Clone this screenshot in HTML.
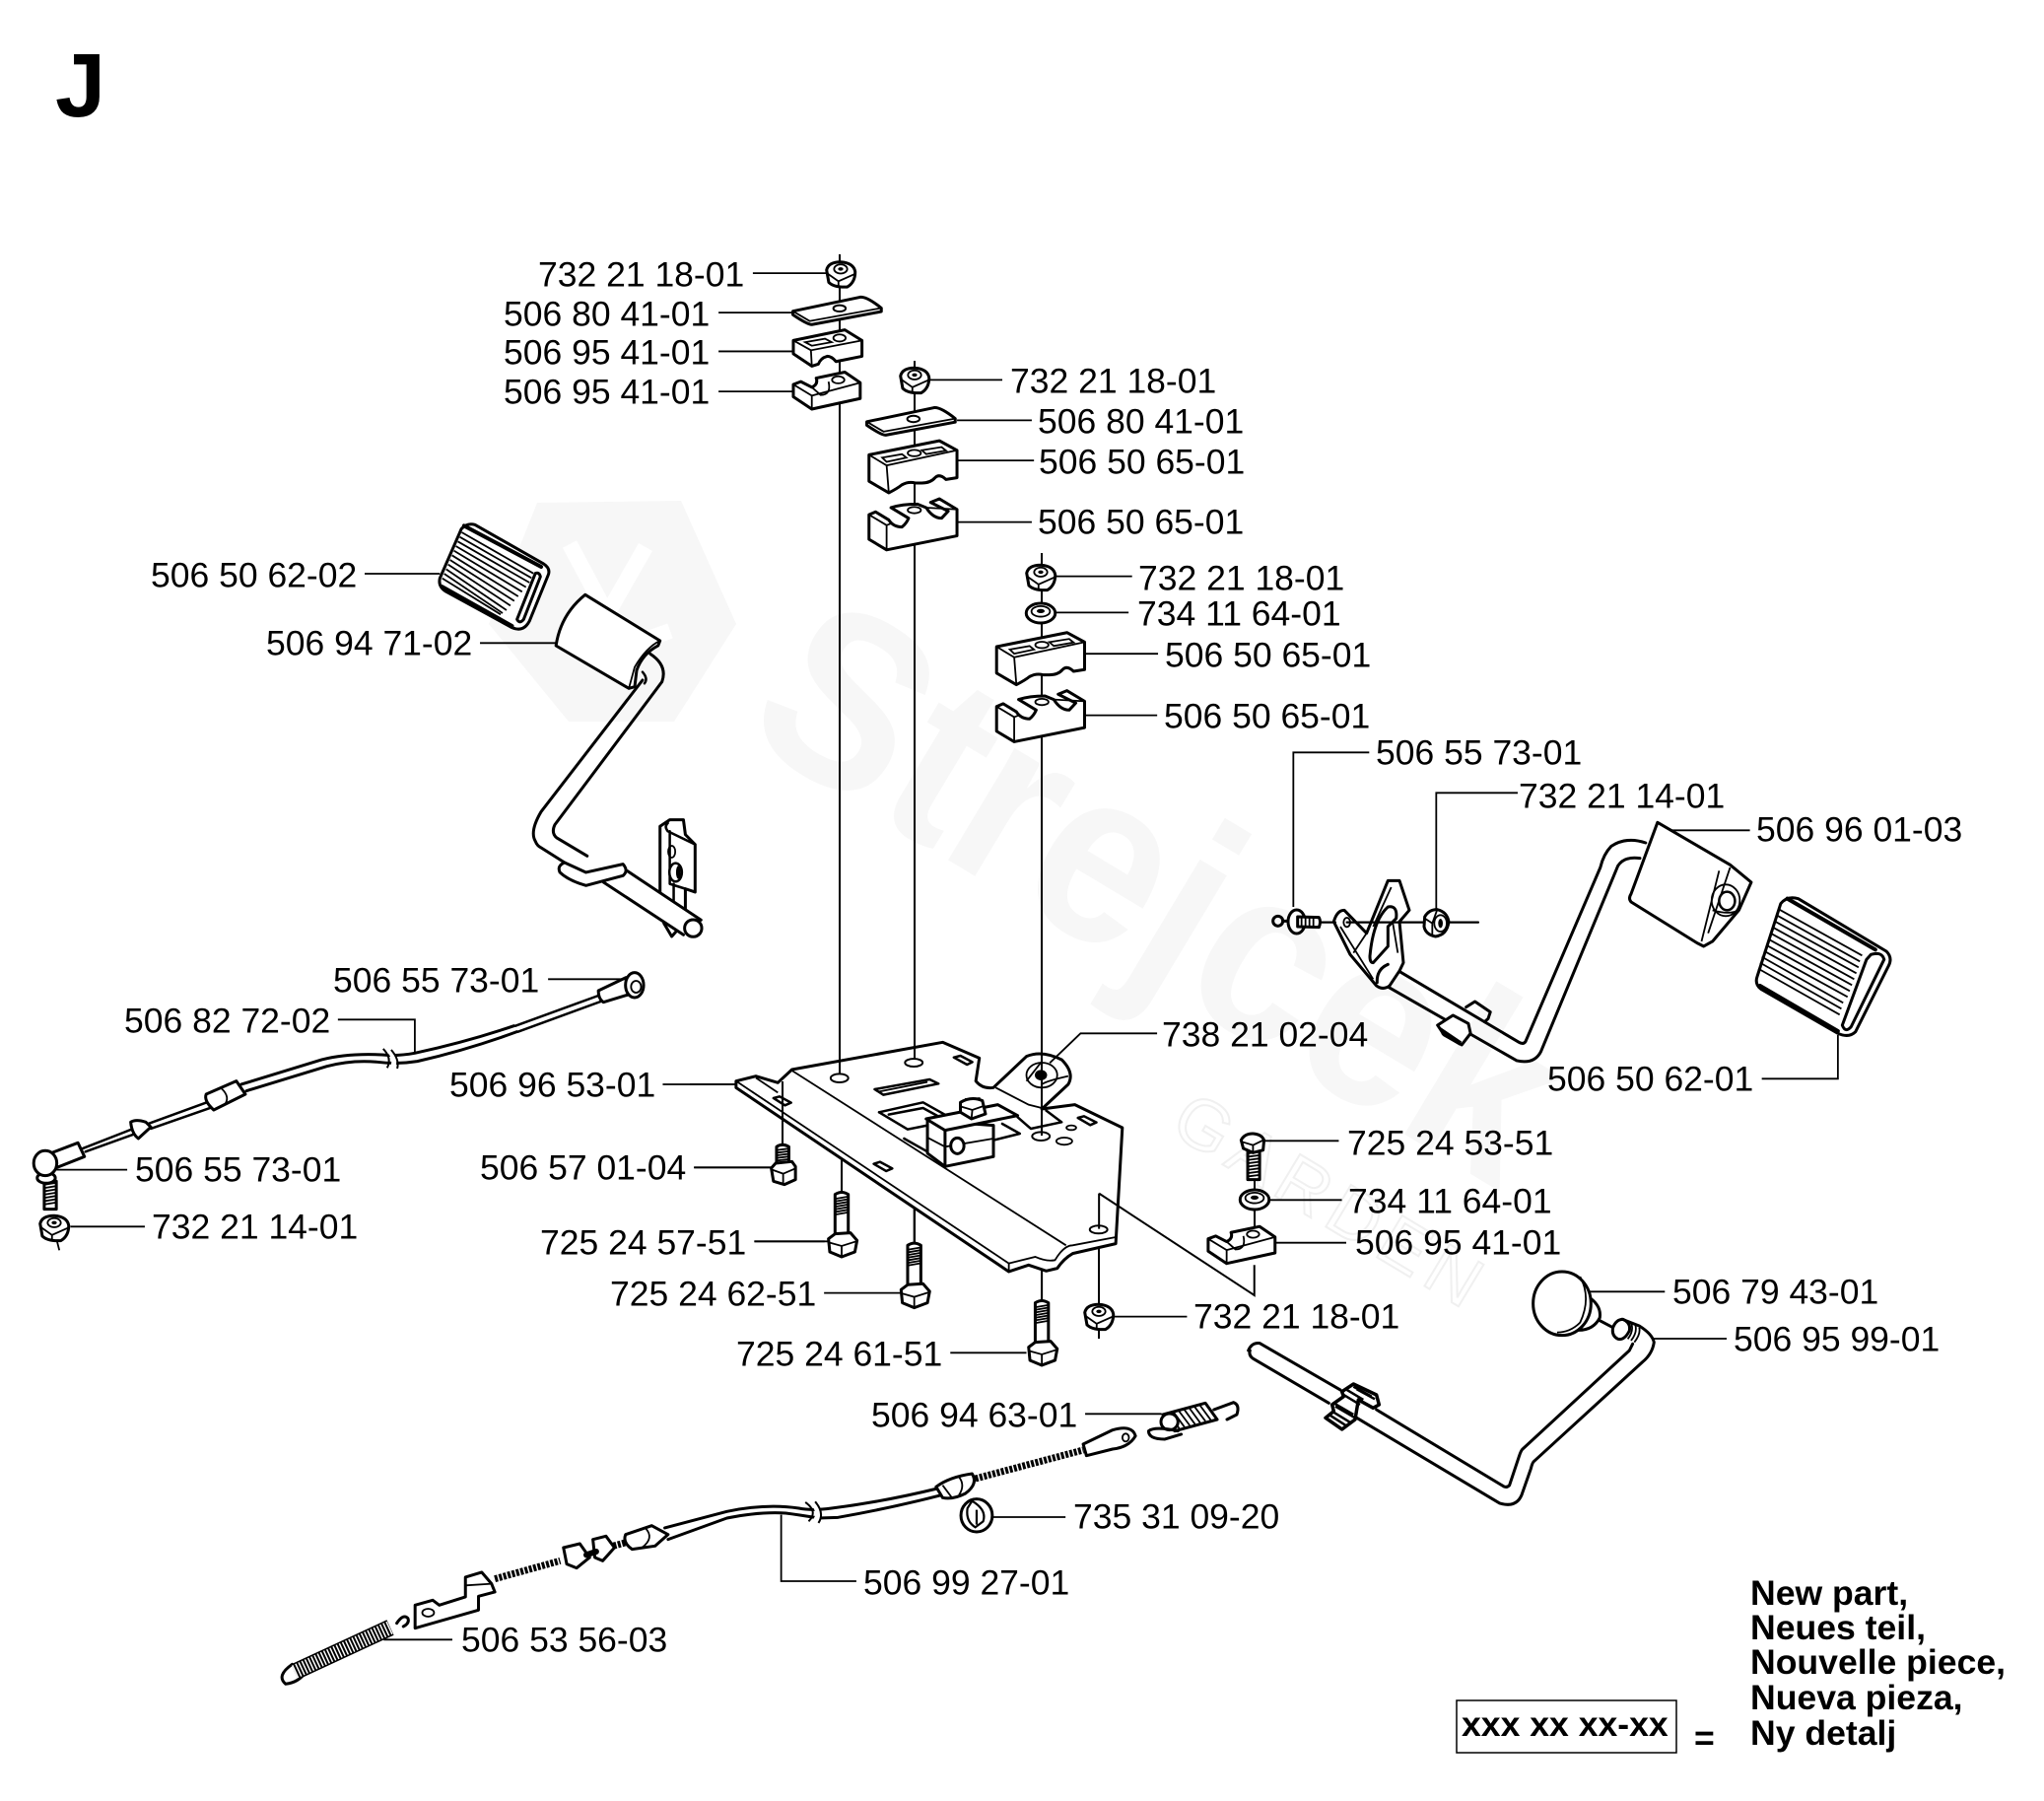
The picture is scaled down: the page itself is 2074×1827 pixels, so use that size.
<!DOCTYPE html>
<html><head><meta charset="utf-8"><style>
html,body{margin:0;padding:0;background:#fff}
svg{display:block}
svg *{vector-effect:non-scaling-stroke}
.p{fill:#fff;stroke:#000;stroke-width:3;stroke-linejoin:round;stroke-linecap:round}
.o{fill:none;stroke:#000;stroke-width:3;stroke-linejoin:round;stroke-linecap:round}
.t{fill:none;stroke:#000;stroke-width:1.8}
.k{fill:#000;stroke:none}
.l text{font:35.5px "Liberation Sans",sans-serif;fill:#000}
.b text{font:bold 35.6px "Liberation Sans",sans-serif;fill:#000}
</style></head><body>
<svg width="2074" height="1827" viewBox="0 0 2074 1827" xmlns="http://www.w3.org/2000/svg">
<defs>
<g id="nut" transform="scale(.4464,.3571)">
<path class="p" d="M-32,-10Q-28,-33 0,-33Q30,-30 33,-5Q33,25 15,38Q-15,40 -27,25Z"/>
<ellipse class="t" cx="0" cy="-13" rx="15" ry="13"/><ellipse class="k" cx="0" cy="-13" rx="6" ry="5"/>
<path class="t" d="M-30,0L-5,22L31,2M-5,22L-5,39"/>
</g>
<g id="washer" transform="scale(.4464,.3571)">
<ellipse class="p" cx="0" cy="0" rx="33" ry="28"/><ellipse class="t" cx="0" cy="-5" rx="21" ry="15"/><ellipse class="k" cx="0" cy="-6" rx="9" ry="6"/>
</g>
<g id="slat">
<path class="p" d="M727,212L880,172Q895,170 928,203L928,213L770,250Q760,250 727,222Z"/>
<path class="t" d="M727,212L765,240L928,203"/><ellipse class="p" style="stroke-width:2" cx="833" cy="204" rx="14" ry="9"/>
</g>
<g id="smallTop">
<path class="p" d="M728,295L845,265L884,295L884,340L825,355Q815,340 805,340Q790,345 785,362L770,368L728,333Z"/>
<path class="t" d="M728,295L768,323L884,295M768,323L770,368M755,300L800,290L815,300L770,310Z"/>
<ellipse class="t" cx="833" cy="288" rx="14" ry="10"/>
</g>
<g id="smallBot">
<path class="p" d="M728,420L745,412L770,428Q785,420 780,402L845,385L880,415L880,460L770,490L728,455Z"/>
<path class="t" d="M728,420L770,452L770,490M770,452L880,415M770,428L790,450Q815,450 808,412"/>
<ellipse class="t" cx="830" cy="407" rx="14" ry="10"/>
</g>
<g id="bigTop">
<path class="p" d="M900,620L1060,580L1100,607L1100,685L1075,690Q1060,672 1050,685Q1040,700 1020,700L1005,700Q990,695 975,705Q965,715 945,728L900,695Z"/>
<path class="t" d="M900,620L940,650L1100,607M940,650L945,728M930,628L975,618L985,628L940,640ZM1020,607L1065,598L1075,608L1030,618Z"/>
<ellipse class="t" cx="1003" cy="615" rx="15" ry="9"/>
</g>
<g id="bigBot">
<path class="p" d="M900,790L915,782L945,805Q955,825 975,825Q985,815 990,800L950,770Q975,760 1010,760L1030,770Q1045,800 1065,800L1080,780L1040,755L1060,745L1100,775L1100,850L940,890L900,860Z"/>
<path class="t" d="M900,790L940,820L940,890M940,820L950,815M1030,770L1100,775"/>
<ellipse class="t" cx="1003" cy="777" rx="15" ry="9"/>
</g>
<g id="bolt">
<path class="p" d="M330,635Q345,622 360,635L360,760L330,760Z"/>
<path class="t" d="M332,648L358,642M332,656L358,650M332,664L358,658M332,672L358,666M332,680L358,674M332,688L358,682M332,696L358,690"/>
<path class="p" d="M315,770L330,755L365,752L380,775L375,810L345,825L318,810Z"/>
<path class="t" d="M318,782L345,792L378,778M345,792L345,825"/>
</g>
</defs>

<!-- watermark -->
<g>
<path fill="#f7f7f7" d="M545,510L691,508L747,633L684,732L577,732L496,633Z"/>
<path fill="none" stroke="#fff" stroke-width="16" d="M578,552L625,640M655,555L615,625M610,665L680,640"/>
<text transform="translate(750,745) rotate(31)" font-family="Liberation Sans,sans-serif" font-weight="bold" font-size="250" fill="#f7f7f7" textLength="900" lengthAdjust="spacingAndGlyphs">Strejcek</text>
<text transform="translate(1185,1148) rotate(31)" font-family="Liberation Sans,sans-serif" font-size="72" fill="none" stroke="#f0f0f0" stroke-width="2" textLength="350" lengthAdjust="spacing">GARDEN</text>
</g>

<text x="56" y="118" font-family="Liberation Sans,sans-serif" font-weight="bold" font-size="92" fill="#000">J</text>

<!-- plate -->
<g transform="translate(700,1000) scale(.4464,.3333)">
<path class="p" d="M105,290L150,275L200,295L232,255L575,172L658,220L650,290Q665,315 690,310L765,215Q800,195 845,225Q875,265 860,300L800,375L875,362L983,432L968,785L870,815Q850,830 835,860L810,868L770,850L725,870L105,310Z"/>
<path class="t" d="M105,290L725,845M150,280L200,325M232,258L855,790M725,845L785,825Q810,840 830,835Q850,790 870,790L968,765M725,845L725,870M695,310L770,362L800,372"/>
<ellipse class="p" style="stroke-width:2" cx="340" cy="281" rx="20" ry="13"/>
<ellipse class="p" style="stroke-width:2" cx="509" cy="234" rx="20" ry="12"/>
<ellipse class="p" style="stroke-width:2" cx="798" cy="458" rx="20" ry="13"/>
<ellipse class="p" style="stroke-width:2" cx="929" cy="742" rx="20" ry="12"/>
<ellipse class="t" cx="867" cy="432" rx="11" ry="7"/><ellipse class="t" cx="851" cy="473" rx="18" ry="11"/>
<path class="o" style="stroke-width:2.5" d="M600,218L615,213L642,232L630,240ZM882,402L896,397L924,416L910,424ZM190,342L204,337L230,356L216,364ZM418,542L432,536L460,556L446,564Z"/>
<path class="o" style="stroke-width:2.5" d="M420,315L545,285L565,298L440,332Z"/><path class="t" d="M430,322L540,293"/>
<path class="o" style="stroke-width:2.5" d="M430,385L530,355L590,400M430,385L495,437L540,425M452,392L530,372L575,405M487,465L540,505M745,400L775,435L845,415L810,380M690,470L750,450L710,420"/>
<path class="t" d="M800,300Q810,290 860,275M765,290L800,230"/>
<ellipse class="t" cx="800" cy="272" rx="35" ry="38"/>
<ellipse class="k" cx="798" cy="272" rx="14" ry="16"/>
<path class="p" d="M540,410L540,510L580,550L690,520L690,425Z"/>
<path class="t" d="M580,490L690,465M540,462L580,490"/><path class="o" d="M580,440L580,550"/>
<ellipse class="p" cx="608" cy="487" rx="15" ry="24"/>
<path class="p" d="M537,405L700,362L745,395L580,440Z"/>
<path class="p" d="M615,355Q640,335 665,350L672,390L640,405L615,385Z"/>
<path class="t" d="M617,368L642,378L670,365M642,378L640,405M625,345L660,342"/>
</g>

<!-- axes -->
<g fill="none" stroke="#000" stroke-width="2">
<path d="M852,258V1090M928,366V1075M1057,561V1152"/>
<path d="M794,1097V1160M854,1177V1210M928,1227V1262M1057,1288V1320M1115,1266V1322M1273,1195V1250"/>
</g>

<!-- stacks Z1 -->
<g transform="translate(480,240) scale(.4464,.3571)">
<use href="#slat"/><use href="#slat" transform="translate(168,314)"/>
<use href="#smallTop"/><use href="#smallBot"/>
<use href="#bigTop"/><use href="#bigBot"/>
<use href="#bigTop" transform="translate(290,545)"/><use href="#bigBot" transform="translate(290,545)"/>
<path class="t" d="M636,104H805M558,216H727M558,326H727M558,440H727M1035,407H1203M1100,522H1270M1100,636H1275M1100,811H1270M1322,965H1498M1325,1068H1490M1390,1185H1557M1390,1360H1555"/>
</g>
<use href="#nut" transform="translate(853,277.5)"/>
<use href="#nut" transform="translate(928,385)"/>
<use href="#nut" transform="translate(1056,585)"/>
<use href="#washer" transform="translate(1056,622)"/>
<use href="#washer" transform="translate(1273,1217)"/>
<use href="#nut" transform="translate(1115,1335)"/>
<path fill="none" stroke="#000" stroke-width="2" d="M1115,1347V1358"/>

<!-- under-plate bolts Z3 -->
<g transform="translate(700,1000) scale(.4464,.3333)">
<path class="o" style="stroke-width:2" d="M345,530V630M510,680V782M800,865V960"/>
<use href="#bolt"/><use href="#bolt" transform="translate(165,155)"/><use href="#bolt" transform="translate(455,330)"/>
<path class="p" d="M197,490Q210,478 225,490L225,545L197,545Z"/>
<path class="t" d="M199,500L223,496M199,508L223,504M199,516L223,512M199,524L223,520M199,532L223,528"/>
<path class="p" d="M185,555L195,540L232,535L240,550L240,590L215,605L190,595Z"/><path class="t" d="M187,560L212,572L240,556M212,572V603"/>
<path class="p" d="M1268,480H1295L1295,590L1268,590Z"/>
<path class="t" d="M1270,510L1293,506M1270,520L1293,516M1270,530L1293,526M1270,540L1293,536M1270,550L1293,546M1270,560L1293,556M1270,570L1293,566M1270,580L1293,576"/>
<path class="p" d="M1253,470Q1260,450 1280,450Q1300,452 1305,470L1303,500L1280,508L1258,495Z"/><path class="t" d="M1255,475L1280,485L1303,470M1280,485V508"/>
<path class="t" d="M0,300H105M10,553H185M147,778H315M305,935H480M592,1117H765M960,1007H1130M1062,145H888L818,235M1305,472H1475M1315,652H1482"/>
<path class="t" style="stroke-width:2" d="M930,632L1283,942V850M930,632V740"/>
</g>
<g transform="translate(1225.9,1256.7) scale(.4464,.3571) translate(-728,-420)"><use href="#smallBot"/></g>
<path class="t" d="M1293,1260.7H1366"/>

<!-- left pedal Z5 -->
<g transform="translate(130,500) scale(.3954,.3333)">
<path class="o" d="M1340,490Q1385,525 1370,575L1095,1010Q1085,1035 1100,1050L1178,1105"/>
<path class="o" d="M1320,570L1060,970Q1030,1030 1045,1060Q1050,1075 1060,1080L1120,1125"/>
<path class="o" style="stroke-width:2.5" d="M1320,545Q1335,565 1325,580"/>
<path class="p" d="M1365,1015L1365,1225L1400,1250L1430,1270L1430,1205L1455,1215L1455,1070L1430,1040L1425,995L1390,995Z"/>
<path class="o" style="stroke-width:2.5" d="M1385,1005Q1375,1015 1385,1030L1455,1070M1390,1030L1390,1190L1430,1205M1400,1190L1400,1250"/>
<ellipse class="t" cx="1395" cy="1092" rx="9" ry="18"/><ellipse class="p" style="stroke-width:2.5" cx="1405" cy="1155" rx="16" ry="28"/><ellipse class="k" cx="1412" cy="1155" rx="6" ry="20"/>
<path class="o" d="M1375,1310L1395,1350L1410,1330"/>
<path class="p" style="stroke:none" d="M1280,1150L1470,1300L1420,1345L1220,1185Z"/>
<path class="o" d="M1280,1150L1470,1300M1220,1185L1425,1345"/>
<ellipse class="p" cx="1450" cy="1325" rx="22" ry="26"/>
<path class="p" d="M1120,1125Q1100,1135 1108,1155Q1130,1180 1175,1195L1270,1165Q1285,1150 1270,1130L1175,1155Z"/>
<path class="p" d="M1173,310L1365,450L1360,465Q1320,490 1305,540L1300,590L1285,595L1098,465Q1110,370 1173,310Z"/>
<path class="t" d="M1365,450Q1330,470 1300,530L1285,595"/>
<path class="p" d="M855,110Q870,90 890,97L1065,215Q1085,230 1078,250L1030,390Q1015,425 985,410L815,300Q795,285 800,260Z"/>
<path class="t" d="M856,120l184,125M851,134l184,125M846,148l184,125M841,162l180,125M836,176l175,125M831,190l170,125M826,204l165,125M821,218l160,125M816,232l155,125M811,246l150,120M806,260l150,110"/>
<path class="o" style="stroke-width:4" d="M862,100L1060,225M805,285L985,405"/>
<path class="p" d="M1045,245Q1055,240 1058,255L1015,385Q1005,400 998,385Z"/>
<path class="t" d="M607,246H800M903,457H1098"/>
</g>

<!-- right pedal Z4 -->
<g transform="translate(1260,800) scale(.4464,.3333)">
<path class="o" d="M918,165Q875,145 840,175Q822,200 815,240L645,770Q640,780 630,772L335,538"/>
<path class="o" d="M905,212Q870,205 855,235L680,800Q665,840 625,828L315,590"/>
<path class="p" d="M945,103L1110,232L1158,285L1130,370L1070,465L1050,480L1035,470L885,345Q878,335 885,320Z"/>
<path class="t" d="M1110,240L1060,440M1085,250L1045,465M1070,370Q1110,385 1130,370"/>
<ellipse class="t" cx="1100" cy="340" rx="32" ry="48"/><ellipse class="p" style="stroke-width:2.5" cx="1103" cy="342" rx="18" ry="28"/>
<path class="p" d="M1225,350Q1240,325 1265,335L1465,495Q1480,515 1470,540L1395,740Q1380,760 1355,745L1180,610Q1165,595 1172,570Z"/>
<path class="t" d="M1222,368l188,140M1217,386l188,140M1212,404l190,140M1207,422l190,140M1202,440l190,140M1197,458l190,140M1192,476l190,140M1187,494l190,140M1182,512l185,140M1178,530l185,140M1174,548l185,140"/>
<path class="o" style="stroke-width:4" d="M1178,600L1355,738M1240,335L1440,490"/>
<path class="p" d="M1430,505Q1455,495 1460,520L1385,725Q1372,745 1365,720L1420,520Z"/>
<path class="p" d="M445,720L480,690L515,715L520,745L500,780L460,750Z"/>
<path class="k" d="M445,720L500,770L495,782L455,750Z"/>
<path class="o" d="M510,665L530,648L565,680L560,700L552,710"/>
<path class="t" d="M975,127H1155M1355,750V883H1182"/>
</g>

<!-- bracket + screw Z11 -->
<g transform="translate(1280,740) scale(.3333)">
<path class="p" d="M220,585Q230,550 252,550L320,620L385,460L420,460L450,550L420,585L432,710L420,735L390,780Q370,795 350,780L270,685Z"/>
<path class="t" d="M240,600L340,760M280,680L320,620M340,600L395,480M400,590L415,680"/>
<ellipse class="t" cx="260" cy="587" rx="10" ry="14"/>
<path class="p" d="M330,690Q340,580 385,540Q415,535 410,575L385,600L385,660L340,710Q330,710 330,690Z"/>
<path class="t" d="M97,540V70H328M532,550V193H780"/>
<path class="p" style="fill:none" d="M352,770Q350,730 385,715"/>
<circle class="o" cx="50" cy="583" r="15"/><path class="o" d="M65,583H85"/>
<ellipse class="p" cx="107" cy="585" rx="26" ry="36"/>
<path class="p" d="M110,570L175,572Q182,585 175,602L110,600Z"/>
<path class="t" d="M122,570V600M134,570V600M146,570V600M158,570V600"/>
<path class="o" style="stroke-width:2.2" d="M180,587H225M260,587H500M565,587H660"/>
<path class="p" d="M497,570Q510,548 535,548Q565,555 570,585Q565,625 530,630Q500,625 495,600Z"/>
<path class="t" d="M497,575L520,590L520,630M520,590L535,548"/>
<ellipse class="t" cx="545" cy="590" rx="19" ry="25"/><ellipse class="k" cx="545" cy="590" rx="7" ry="14"/>
</g>

<!-- knob rod Z7 -->
<g transform="translate(1220,1250) scale(.3333)">
<path class="o" d="M140,360Q150,335 175,338L420,480M385,520L155,385Q140,375 145,360"/>
<path class="o" d="M1278,265L1330,285Q1370,310 1375,335Q1370,370 1340,395L1010,697Q1005,700 1000,720L972,800Q955,840 905,825L470,565"/>
<path class="o" d="M1310,340L1300,360L975,660Q970,665 965,680L935,770Q925,780 915,772L530,540"/>
<path class="p" d="M1250,290Q1260,265 1280,265Q1305,275 1300,300Q1285,330 1265,325Q1245,315 1250,290Z"/>
<path class="t" d="M1305,275Q1315,300 1295,325M1318,282Q1325,305 1305,330M1330,290Q1335,310 1315,335"/>
<path class="p" style="stroke-width:3.5" d="M375,565L400,545L395,525L430,500L425,485L460,462L530,495L538,525L520,535L475,510L465,570L425,600Z"/>
<path class="t" style="stroke-width:2.5" d="M385,555L440,590M395,545L452,580M405,530L465,565M400,520L460,555M430,495L480,525M440,480L490,510M460,470L515,500M470,478L525,508"/>
<path class="o" d="M1208,268L1250,290"/>
<path class="p" d="M1180,200Q1215,225 1210,260Q1190,300 1140,298"/>
<ellipse class="p" cx="1095" cy="217" rx="88" ry="97"/>
<path class="t" d="M1150,135Q1185,200 1150,275Q1120,305 1080,305M1180,181H1408"/>
</g>
<path class="t" d="M1678,1358H1752"/>

<!-- cable A Z2 -->
<g transform="translate(0,900) scale(.5102,.3333)">
<path class="o" style="stroke-width:2.5" d="M1190,330L1025,422M1200,345L1030,440M420,650L295,720M425,668L300,735M265,735L165,795M270,750L170,805"/>
<path class="o" d="M1022,422Q930,470 825,505Q790,515 760,510Q690,505 640,525L480,600M1028,440Q930,495 830,530Q790,540 750,532Q700,525 650,545L490,620"/>
<path fill="none" stroke="#fff" stroke-width="5" d="M772,495Q790,520 780,552"/>
<path class="t" style="stroke-width:2" d="M762,492Q780,520 770,550M778,495Q795,525 790,552"/>
<path class="p" d="M1245,275L1190,315Q1190,340 1200,350L1265,320Z"/>
<ellipse class="p" cx="1262" cy="298" rx="18" ry="38"/><ellipse class="t" cx="1265" cy="303" rx="10" ry="18"/>
<path class="p" d="M410,630L470,590L488,630L425,678Q405,650 410,630Z"/><path class="t" d="M440,612Q460,640 445,665"/>
<path class="p" d="M260,715Q270,705 290,715L300,730L275,765Q262,750 260,715Z"/>
<path class="p" d="M155,778L168,820L110,855L100,810Z"/>
<path class="p" d="M88,895H112L112,980H88Z"/>
<path class="t" d="M90,905L110,900M90,915L110,910M90,925L110,920M90,935L110,930M90,945L110,940M90,955L110,950M90,965L110,960"/>
<ellipse class="p" cx="92" cy="885" rx="18" ry="16"/>
<ellipse class="p" cx="90" cy="840" rx="23" ry="38"/>
<path class="t" d="M1090,280H1245M672,403H825V505M112,860H253M140,1033H288M1318,600H1465M1380,853H1535M1500,1078H1640M113,1075L118,1105"/>
</g>
<use href="#nut" transform="translate(55,1245)"/>

<!-- cable B Z6 -->
<g transform="translate(260,1380) scale(.6633,.3333)">
<path class="o" d="M1042,390Q960,430 880,450Q850,458 830,450Q780,435 720,460L625,510M1048,410Q970,450 890,478L860,480Q830,470 810,465Q770,460 720,480L630,545"/>
<path fill="none" stroke="#fff" stroke-width="6" d="M850,430Q868,465 853,495"/>
<path class="t" style="stroke-width:2" d="M840,432Q860,460 845,490M855,430Q870,465 860,495"/>
<path class="o" style="stroke-width:7;stroke-linecap:butt;stroke-dasharray:3 1.5" d="M1100,360L1265,273M365,665L465,610M540,568L570,552"/>
<path class="p" d="M1265,255L1310,212Q1340,195 1345,230Q1335,265 1310,270L1270,290Z"/><ellipse class="t" cx="1330" cy="235" rx="5" ry="12"/>
<path class="p" d="M1040,385Q1060,355 1095,345Q1105,375 1085,405Q1065,425 1050,418Z"/><path class="t" d="M1050,380L1065,420M1075,355Q1085,380 1075,410"/>
<path class="p" d="M565,530L605,503L630,530L610,565L575,575Q560,555 565,530Z"/><path class="t" d="M595,510Q610,540 590,570"/>
<path class="p" d="M515,545L535,535L548,570L530,610L518,600Z"/>
<path class="p" d="M470,570L495,558L510,600L490,632L475,620Z"/>
<path class="o" style="stroke-width:6" d="M505,592L520,582"/>
<path class="p" d="M320,660L345,645L360,680L365,705L340,718L340,760L243,815L243,745L270,730L280,745L320,720Z"/>
<path class="t" d="M320,685L360,680"/><ellipse class="t" cx="263" cy="768" rx="9" ry="12"/>
<path class="o" d="M215,800Q225,770 232,785Q235,800 225,810M55,925Q30,960 45,985Q65,980 75,950"/>
<ellipse class="p" cx="1102" cy="472" rx="24" ry="50"/><path class="t" style="stroke-width:2.2" d="M1095,428Q1118,455 1112,490L1100,508Q1085,490 1088,450ZM1102,455V500"/>
<path class="p" d="M1387,165L1452,130L1470,180L1405,215Z" />
<path class="t" d="M1395,162L1412,207M1403,157L1420,203M1411,153L1428,198M1419,148L1436,194M1427,144L1444,190M1435,140L1452,185M1443,135L1460,181"/>
<ellipse class="p" cx="1397" cy="187" rx="13" ry="25"/>
<path class="o" d="M1465,150L1495,128Q1505,135 1500,165L1485,180M1410,215Q1375,200 1365,215Q1365,240 1390,240L1415,225"/>
<path class="t" d="M1268,163H1385M1125,477H1238M803,470V672H918M195,850H300"/>
</g>
<path fill="none" stroke="#000" stroke-width="17" d="M299,1696L396,1651"/>
<path fill="none" stroke="#fff" stroke-width="14" stroke-dasharray="1.5 2" d="M299,1696L396,1651"/>

<!-- labels -->
<g class="l" transform="translate(-1,.5)">
<text x="547" y="290">732 21 18-01</text>
<text x="512" y="330">506 80 41-01</text>
<text x="512" y="369">506 95 41-01</text>
<text x="512" y="409">506 95 41-01</text>
<text x="1026" y="398">732 21 18-01</text>
<text x="1054" y="439">506 80 41-01</text>
<text x="1055" y="480">506 50 65-01</text>
<text x="1054" y="541">506 50 65-01</text>
<text x="1156" y="598">732 21 18-01</text>
<text x="1155" y="634">734 11 64-01</text>
<text x="1183" y="676">506 50 65-01</text>
<text x="1182" y="738">506 50 65-01</text>
<text x="1397" y="775">506 55 73-01</text>
<text x="1542" y="819">732 21 14-01</text>
<text x="1783" y="853">506 96 01-03</text>
<text x="1571" y="1106">506 50 62-01</text>
<text x="1180" y="1061">738 21 02-04</text>
<text x="1368" y="1171">725 24 53-51</text>
<text x="1369" y="1230">734 11 64-01</text>
<text x="1376" y="1272">506 95 41-01</text>
<text x="1698" y="1322">506 79 43-01</text>
<text x="1760" y="1370">506 95 99-01</text>
<text x="1212" y="1347">732 21 18-01</text>
<text x="748" y="1385">725 24 61-51</text>
<text x="620" y="1324">725 24 62-51</text>
<text x="549" y="1272">725 24 57-51</text>
<text x="488" y="1196">506 57 01-04</text>
<text x="457" y="1112">506 96 53-01</text>
<text x="339" y="1006">506 55 73-01</text>
<text x="127" y="1047">506 82 72-02</text>
<text x="138" y="1198">506 55 73-01</text>
<text x="155" y="1256">732 21 14-01</text>
<text x="154" y="595">506 50 62-02</text>
<text x="271" y="664">506 94 71-02</text>
<text x="885" y="1447">506 94 63-01</text>
<text x="1090" y="1550">735 31 09-20</text>
<text x="877" y="1617">506 99 27-01</text>
<text x="469" y="1675">506 53 56-03</text>
</g>

<!-- legend -->
<g class="b">
<text x="1776" y="1628">New part,</text>
<text x="1776" y="1663">Neues teil,</text>
<text x="1776" y="1698">Nouvelle piece,</text>
<text x="1776" y="1734">Nueva pieza,</text>
<text x="1776" y="1770">Ny detalj</text>
<text x="1483" y="1761">xxx xx xx-xx</text>
<text x="1719" y="1775">=</text>
</g>
<rect x="1478" y="1725" width="223" height="53" fill="none" stroke="#000" stroke-width="1.5"/>
</svg>
</body></html>
